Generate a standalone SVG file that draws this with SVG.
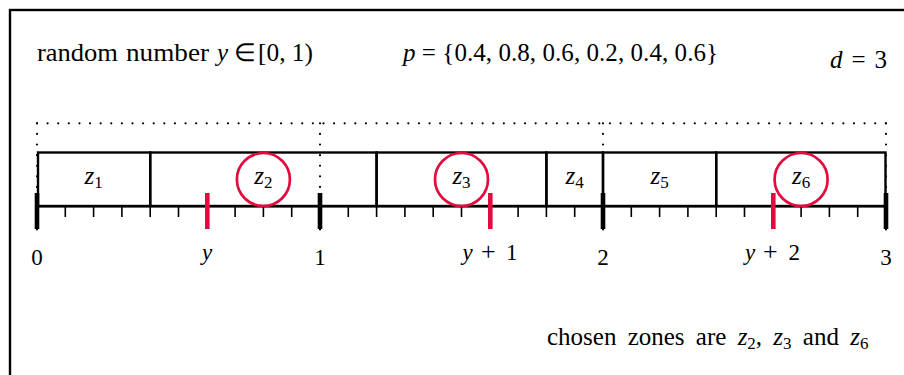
<svg xmlns="http://www.w3.org/2000/svg" width="904" height="375" viewBox="0 0 904 375">
<style>
  text { font-family: "Liberation Serif", serif; font-size: 25px; fill: #000; }
  .lbl { font-size: 23px; }
  .zl { font-size: 25px; }
  .it { font-style: italic; }
  .sub { font-size: 17px; font-style: normal; }
  .zone { fill: none; stroke: #000; stroke-width: 2.4; }
  .sel { fill: none; stroke: #e30b3d; stroke-width: 2.7; }
  .dot { fill: none; stroke: #000; stroke-width: 2.2; stroke-linecap: round; stroke-dasharray: 0 10.61; }
  .minor { stroke: #000; stroke-width: 1.6; fill: none; }
  .major { stroke: #000; stroke-width: 4.6; fill: none; }
  .mark { stroke: #e30b3d; stroke-width: 4.6; fill: none; }
</style>
<rect width="904" height="375" fill="#fff"/>
<rect x="10" y="10" width="1000" height="500" fill="none" stroke="#000" stroke-width="2.4"/>

<g id="header">
  <text x="37" y="61" textLength="81" lengthAdjust="spacingAndGlyphs">random</text>
  <text x="126" y="61" textLength="83" lengthAdjust="spacingAndGlyphs">number</text>
  <text x="217" y="61" class="it">y</text>
  <text x="234" y="61" font-size="21">∈</text>
  <text x="258" y="61" textLength="55" lengthAdjust="spacingAndGlyphs">[0, 1)</text>
  <text x="403" y="61" textLength="315" lengthAdjust="spacing"><tspan class="it">p</tspan> = {0.4, 0.8, 0.6, 0.2, 0.4, 0.6}</text>
  <text x="830" y="68" textLength="57" lengthAdjust="spacing"><tspan class="it">d</tspan> = 3</text>
</g>

<g id="dotted">
  <path class="dot" d="M37 123.3 H886"/>
  <path class="dot" d="M37 123.3 V234 M320 123.3 V234 M603 123.3 V234 M886 123.3 V234"/>
</g>

<g id="z1"><rect class="zone" x="38" y="152.5" width="112.2" height="53.5"/><text class="zl" x="93.6" y="184" text-anchor="middle"><tspan class="it">z</tspan><tspan class="sub" dy="3.5">1</tspan></text></g>
<g id="z2"><rect class="zone" x="150.2" y="152.5" width="226.4" height="53.5"/><text class="zl" x="263.4" y="184" text-anchor="middle"><tspan class="it">z</tspan><tspan class="sub" dy="3.5">2</tspan></text></g>
<g id="z3"><rect class="zone" x="376.6" y="152.5" width="169.8" height="53.5"/><text class="zl" x="461.5" y="184" text-anchor="middle"><tspan class="it">z</tspan><tspan class="sub" dy="3.5">3</tspan></text></g>
<g id="z4"><rect class="zone" x="546.4" y="152.5" width="56.6" height="53.5"/><text class="zl" x="574.7" y="184" text-anchor="middle"><tspan class="it">z</tspan><tspan class="sub" dy="3.5">4</tspan></text></g>
<g id="z5"><rect class="zone" x="603" y="152.5" width="113.2" height="53.5"/><text class="zl" x="659.6" y="184" text-anchor="middle"><tspan class="it">z</tspan><tspan class="sub" dy="3.5">5</tspan></text></g>
<g id="z6"><rect class="zone" x="716.2" y="152.5" width="169.3" height="53.5"/><text class="zl" x="801.1" y="184" text-anchor="middle"><tspan class="it">z</tspan><tspan class="sub" dy="3.5">6</tspan></text></g>

<g id="connectors">
  <path class="zone" d="M37 206.3 H886"/>
  <path class="minor" d="M65.3 206V217 M93.6 206V217 M121.9 206V217 M150.2 206V217 M178.5 206V217 M206.8 206V217 M235.1 206V217 M263.4 206V217 M291.7 206V217 M348.3 206V217 M376.6 206V217 M404.9 206V217 M433.2 206V217 M461.5 206V217 M489.8 206V217 M518.1 206V217 M546.4 206V217 M574.7 206V217 M631.3 206V217 M659.6 206V217 M687.9 206V217 M716.2 206V217 M744.5 206V217 M772.8 206V217 M801.1 206V217 M829.4 206V217 M857.7 206V217"/>
  <path class="major" d="M37 193V229 M320 193V229 M603 193V229 M886 193V229"/>
</g>

<g id="selection">
  <circle class="sel" cx="263.4" cy="179.5" r="26.5"/>
  <circle class="sel" cx="461.5" cy="179.5" r="26.5"/>
  <circle class="sel" cx="801.1" cy="179.5" r="26.5"/>
  <path class="mark" d="M207.3 193V229 M490.3 193V229 M773.3 193V229"/>
</g>

<g id="labels">
  <text class="lbl" x="37" y="265" text-anchor="middle">0</text>
  <text class="lbl it" x="207" y="260" text-anchor="middle">y</text>
  <text class="lbl" x="320" y="265" text-anchor="middle">1</text>
  <text class="lbl" y="260"><tspan x="462.5" class="it">y</tspan><tspan x="481" font-size="26">+</tspan><tspan x="506">1</tspan></text>
  <text class="lbl" x="603" y="265" text-anchor="middle">2</text>
  <text class="lbl" y="260"><tspan x="745" class="it">y</tspan><tspan x="763" font-size="26">+</tspan><tspan x="788.5">2</tspan></text>
  <text class="lbl" x="886" y="265" text-anchor="middle">3</text>
</g>

<g id="footer">
  <text x="547" y="345" style="word-spacing:5px">chosen zones are <tspan class="it">z</tspan><tspan class="sub" dy="3.5">2</tspan><tspan dy="-3.5">, </tspan><tspan class="it">z</tspan><tspan class="sub" dy="3.5">3</tspan><tspan dy="-3.5"> and </tspan><tspan class="it">z</tspan><tspan class="sub" dy="3.5">6</tspan></text>
</g>
</svg>
